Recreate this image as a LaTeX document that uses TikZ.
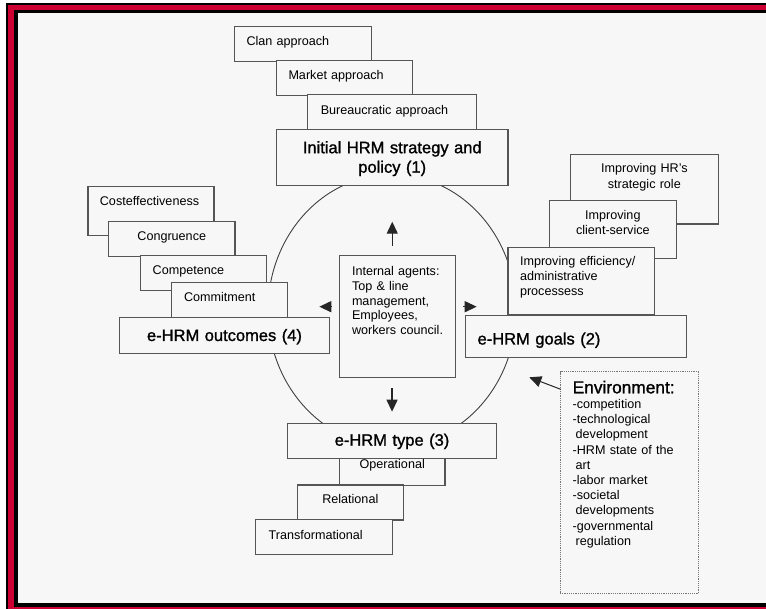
\documentclass[tikz,border=0pt]{standalone}
\usepackage{fontspec}
\setmainfont{Liberation Sans}
\newfontfamily\headfont{Liberation Sans}[FakeBold=1.2]
\usetikzlibrary{arrows.meta,calc}

\definecolor{framered}{RGB}{204,0,51}
\definecolor{paper}{RGB}{247,247,247}
\definecolor{edge}{RGB}{85,85,85}

\tikzset{
  box/.style={draw=edge, fill=paper, line width=1.2pt, anchor=north west,
    inner xsep=12pt, inner ysep=0pt, outer sep=0pt, align=left,
    font=\fontsize{12.6}{15}\selectfont},
  head/.style={box, align=center, font=\headfont\fontsize{16.5}{19.5}\selectfont},
  arr/.style={-{Triangle[length=12pt,width=11pt]}, line width=1.3pt, black!85},
  ring/.style={draw=black!75, line width=0.9pt},
}

\begin{document}
\begin{tikzpicture}[x=1pt,y=-1pt]
  \useasboundingbox (0,0) rectangle (766,609);
  \clip (0,0) rectangle (766,609);
  % frame
  \fill[white] (0,0) rectangle (766,609);
  \fill[black] (6,2.7) rectangle (790,630);
  \fill[framered] (8,4.7) rectangle (790,630);
  \fill[black] (14,10) rectangle (790,607);
  \fill[paper] (18,13.5) rectangle (790,603);

  % cycle
  \draw[ring] (392,310.5) ellipse [x radius=124pt, y radius=136pt];

  % strategy (1)
  \node[box, text width=112.8pt, text height=19.6pt, text depth=15.4pt] (clan) at (234.5,26.4) {Clan approach};
  \node[box, text width=112.3pt, text height=19.4pt, text depth=15.5pt] (market) at (276.5,60.6) {Market approach};
  \node[box, inner xsep=13pt, text width=142.5pt, text height=19.9pt, text depth=14.6pt] (bureau) at (307.8,94.8) {Bureaucratic approach};
  \node[head, text width=207.5pt, text height=23.9pt, text depth=32pt] (initial) at (276.5,129.3) {Initial HRM strategy and\\policy (1)};

  % goals (2)
  \node[box, align=center, text width=123.5pt, text height=18.5pt, text depth=51.4pt,
        font=\fontsize{12.6}{15.6}\selectfont] (role) at (570.6,154.2) {Improving HR’s\\strategic role};
  \node[box, align=center, text width=102.5pt, text height=19.2pt, text depth=38.3pt,
        font=\fontsize{12.6}{14.3}\selectfont] (client) at (549.6,200.8) {Improving\\client-service};
  \node[box, text width=122.6pt, text height=18.6pt, text depth=48.6pt] (effic) at (508,247.4) {Improving efficiency/\\administrative\\processess};
  \node[head, align=left, text width=196.8pt, text height=29.2pt, text depth=12.8pt] (goals) at (465.6,315.3) {e-HRM goals (2)};

  % outcomes (4)
  \node[box, text width=102.1pt, text height=18.5pt, text depth=30.4pt] (cost) at (87.9,186.8) {Costeffectiveness};
  \node[box, align=center, text width=102.5pt, text height=19.3pt, text depth=15.3pt] (congr) at (108.5,221.7) {Congruence};
  \node[box, inner xsep=12.5pt, text width=101.5pt, text height=19.1pt, text depth=15.5pt] (compet) at (140.2,255.9) {Competence};
  \node[box, inner xsep=12.5pt, text width=90.7pt, text height=19pt, text depth=16.4pt] (commit) at (171.5,282.3) {Commitment};
  \node[head, text width=186.6pt, text height=23.3pt, text depth=12.4pt] (outcomes) at (119.2,317.7) {e-HRM outcomes (4)};

  % agents
  \node[box, inner xsep=12.5pt, text width=90.8pt, text height=20.2pt, text depth=102.2pt,
        font=\fontsize{12.6}{14.7}\selectfont] (agents) at (339.5,255.5)
        {Internal agents:\\Top \& line\\management,\\Employees,\\\mbox{workers council.}};

  % type (3)
  \node[box, align=center, text width=81.5pt, text height=10pt, text depth=17.1pt] (oper) at (339.5,458.3) {Operational};
  \node[box, align=center, text width=82pt, text height=18.3pt, text depth=16.7pt] (rel) at (297.3,485) {Relational};
  \node[box, inner xsep=13pt, text width=111pt, text height=19.7pt, text depth=15.7pt] (trans) at (255.7,519.3) {Transformational};
  \node[head, text width=185.5pt, text height=22.4pt, text depth=12.6pt] (type) at (287.3,423.3) {e-HRM type (3)};

  % environment
  \node[box, draw=edge!80, densely dotted, line width=1pt, inner xsep=12.7pt, text width=112.6pt,
        text height=21.6pt, text depth=200pt, font=\fontsize{12.6}{15.2}\selectfont] (env) at (560,371.7)
        {{\headfont\fontsize{17.3}{15.2}\selectfont Environment:}\\-competition\\-technological\\\hspace*{3pt}development\\-HRM state of the\\\hspace*{3pt}art\\-labor market\\-societal\\\hspace*{3pt}developments\\-governmental\\\hspace*{3pt}regulation};

  % arrows
  \draw[arr] ($(agents.north -| initial)+(0,-9.8)$) -- ($(initial.south)+(0,36.5)$);
  \draw[arr] ($(agents.south -| type)+(0,10.4)$) -- ($(type.north)+(0,-11.6)$);
  \draw[arr] ($(agents.west)+(-7.8,-10)$) -- ++(-12.4,0);
  \draw[arr] ($(agents.east)+(8,-10)$) -- ++(13.4,0);
  \draw[arr, line width=1pt] ($(env.north west)+(0.7,17.6)$) -- ($(env.north west)+(-30.7,5.6)$);
\end{tikzpicture}
\end{document}
